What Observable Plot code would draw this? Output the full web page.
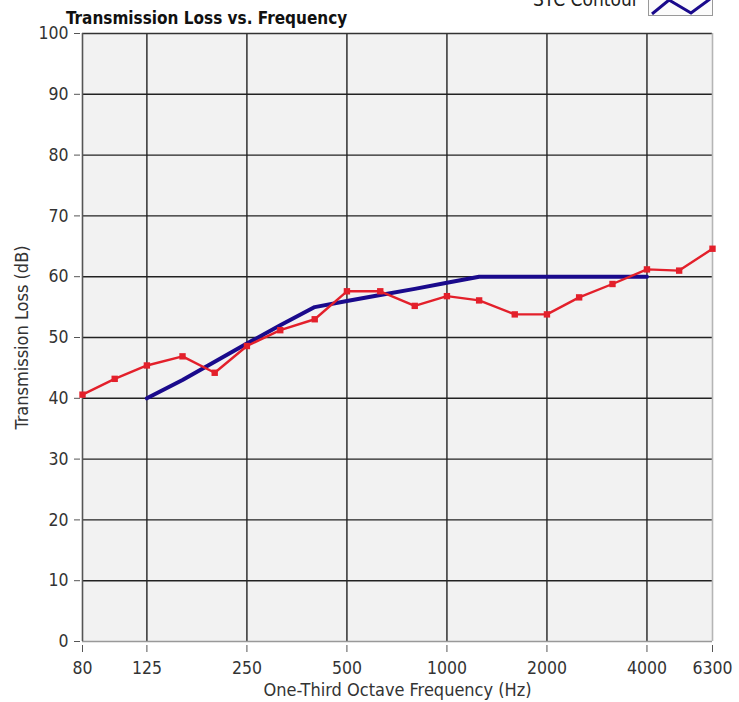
<!DOCTYPE html>
<html>
<head>
<meta charset="utf-8">
<script src="https://cdn.jsdelivr.net/npm/d3@7"></script>
<script src="https://cdn.jsdelivr.net/npm/@observablehq/plot@0.6"></script>
<style>
  html, body { margin: 0; padding: 0; background: #fff; overflow: hidden; }
  #wrap { position: relative; width: 739px; height: 702px; overflow: hidden; font-family: "DejaVu Sans Condensed", "DejaVu Sans", sans-serif; }
  #title { position: absolute; left: 66px; top: 8px; font-size: 17px; line-height: 20px; font-weight: bold; color: #111; white-space: nowrap; }
  #legtext { position: absolute; left: 533px; top: -12px; font-size: 19px; line-height: 22px; color: #222; white-space: nowrap; }
  #legbox { position: absolute; left: 648px; top: -10px; width: 63px; height: 24px; border: 1px solid #999; background: #fbfbfb; }
  #chart { position: absolute; left: 0; top: 0; }
</style>
</head>
<body>
<div id="wrap">
  <div id="chart"></div>
  <div id="title">Transmission Loss vs. Frequency</div>
  <div id="legtext">STC Contour</div>
  <div id="legbox"><svg width="63" height="24"><polyline points="3,23 20,9 42,22 61,8" fill="none" stroke="#1a0a8c" stroke-width="3"/></svg></div>
</div>
<script>
const freqs = [80,100,125,160,200,250,315,400,500,630,800,1000,1250,1600,2000,2500,3150,4000,5000,6300];
const transmissionLoss = [40.6,43.2,45.4,46.9,44.2,48.6,51.2,53.0,57.6,57.6,55.2,56.8,56.1,53.8,53.8,56.6,58.8,61.2,61.0,64.6];
const stcFreqs = [125,160,200,250,315,400,500,630,800,1000,1250,1600,2000,2500,3150,4000];
const stcValues = [40,43,46,49,52,55,56,57,58,59,60,60,60,60,60,60];
const xTicks = [80,125,250,500,1000,2000,4000,6300];
const yTicks = [0,10,20,30,40,50,60,70,80,90,100];

const tlData = freqs.map((f, i) => ({f, v: transmissionLoss[i]}));
const stcData = stcFreqs.map((f, i) => ({f, v: stcValues[i]}));

const chart = Plot.plot({
  width: 739,
  height: 702,
  marginLeft: 82,
  marginRight: 27,
  marginTop: 33,
  marginBottom: 61,
  style: {fontFamily: '"DejaVu Sans Condensed", "DejaVu Sans", sans-serif', fontSize: "17.5px", color: "#333", background: "transparent", overflow: "visible"},
  x: {type: "log", domain: [80, 6300]},
  y: {domain: [0, 100]},
  marks: [
    Plot.frame({fill: "#f2f2f2", stroke: null}),
    Plot.gridX(xTicks.slice(1, -1), {stroke: "#222", strokeOpacity: 1, strokeWidth: 1.4}),
    Plot.gridY(yTicks.slice(1, -1), {stroke: "#222", strokeOpacity: 1, strokeWidth: 1.4}),
    Plot.ruleY([100], {stroke: "#333", strokeWidth: 1.6}),
    Plot.ruleY([0], {stroke: "#999", strokeWidth: 1.6}),
    Plot.ruleX([80], {stroke: "#555", strokeWidth: 1.6}),
    Plot.ruleX([6300], {stroke: "#b5b5b5", strokeWidth: 1.6}),
    Plot.axisX({ticks: xTicks, tickFormat: null, text: null, tickSize: 7, dy: 4, label: null, stroke: "#555"}),
    Plot.text(xTicks, {x: d => d, frameAnchor: "bottom", lineAnchor: "middle", dy: 27, text: d => String(d), fill: "#333", fontSize: 17.5}),
    Plot.axisY({ticks: yTicks, tickFormat: d => String(d), tickSize: 6, tickPadding: 6, dx: -2, label: null, stroke: "#555", fill: "#333", fontSize: 17.5}),
    Plot.text(["One-Third Octave Frequency (Hz)"], {frameAnchor: "bottom", lineAnchor: "middle", dy: 49, text: d => d, fill: "#333", fontSize: 18}),
    Plot.text(["Transmission Loss (dB)"], {frameAnchor: "left", dx: -60, rotate: -90, textAnchor: "middle", text: d => d, fill: "#333", fontSize: 18}),
    Plot.line(stcData, {x: "f", y: "v", stroke: "#1a0a8c", strokeWidth: 4}),
    Plot.line(tlData, {x: "f", y: "v", stroke: "#e3202b", strokeWidth: 2.4}),
    Plot.dot(tlData, {x: "f", y: "v", symbol: "square", r: 3.6, fill: "#e3202b", stroke: null})
  ]
});
document.getElementById("chart").appendChild(chart);
</script>
</body>
</html>
